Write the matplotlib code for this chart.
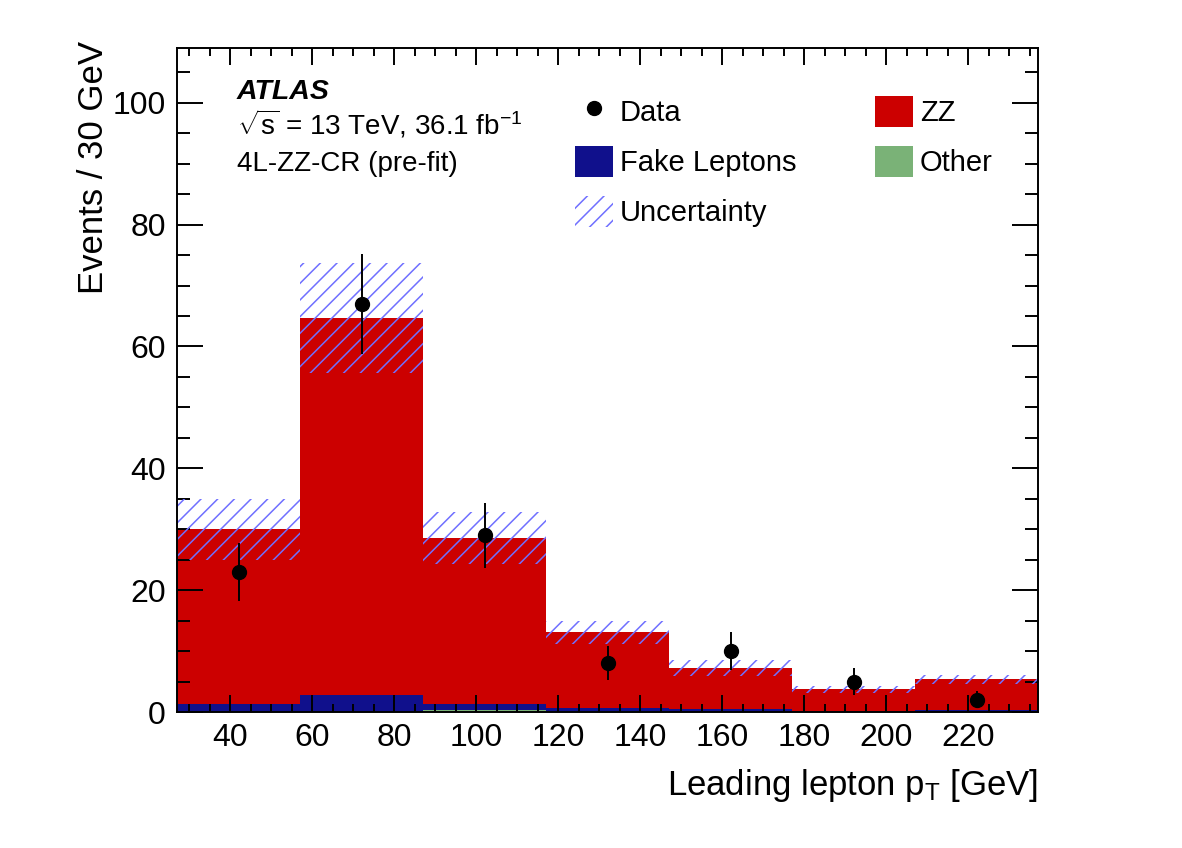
import numpy as np
import matplotlib
matplotlib.use("Agg")
import matplotlib.pyplot as plt
from matplotlib.patches import Patch
from matplotlib.lines import Line2D
from matplotlib.ticker import MultipleLocator

plt.rcParams['font.family'] = ['Liberation Sans', 'DejaVu Sans']
plt.rcParams['mathtext.fontset'] = 'custom'
plt.rcParams['mathtext.rm'] = 'Liberation Sans'
plt.rcParams['mathtext.it'] = 'Liberation Sans:italic'
plt.rcParams['hatch.linewidth'] = 1.1

# binning and yields
edges = np.array([27, 57, 87, 117, 147, 177, 207, 237])
other = np.array([0.05, 0.05, 0.3, 0.1, 0.05, 0.03, 0.05])
fake = np.array([1.3, 2.7, 1.0, 0.5, 0.4, 0.1, 0.2])
zz = np.array([28.65, 61.95, 27.3, 12.5, 6.75, 3.57, 5.15])
unc = np.array([5.0, 9.0, 4.3, 1.9, 1.3, 0.65, 0.75])
data = np.array([23, 67, 29, 8, 10, 5, 2])

red = '#cc0000'
blue = '#10108c'
green = '#7ab277'
hatch_col = '#7070ff'

centers = 0.5 * (edges[:-1] + edges[1:])
widths = np.diff(edges)
total = other + fake + zz

fig = plt.figure(figsize=(11.82, 8.48), dpi=100)
ax = fig.add_axes([177/1182, 136/848, 861/1182, 664/848])

# stacked backgrounds
ax.bar(centers, other, width=widths, color=green, linewidth=0, zorder=1)
ax.bar(centers, fake, width=widths, bottom=other, color=blue, linewidth=0, zorder=1)
ax.bar(centers, zz, width=widths, bottom=other + fake, color=red, linewidth=0, zorder=1)

# uncertainty band
ax.bar(centers, 2 * unc, width=widths, bottom=total - unc, facecolor='none',
       edgecolor=hatch_col, hatch='//', linewidth=0, zorder=2)

# data
ax.errorbar(centers, data, yerr=np.sqrt(data), fmt='o', color='black', ms=10,
            elinewidth=1.4, capsize=0, zorder=4)

ax.set_xlim(27, 237)
ax.set_ylim(0, 109)
ax.xaxis.set_major_locator(MultipleLocator(20))
ax.xaxis.set_minor_locator(MultipleLocator(5))
ax.yaxis.set_major_locator(MultipleLocator(20))
ax.yaxis.set_minor_locator(MultipleLocator(5))
ax.tick_params(axis='both', which='both', direction='in', top=True, right=True,
               width=1.4, labelsize=23)
ax.tick_params(axis='x', which='major', length=12, pad=8)
ax.tick_params(axis='x', which='minor', length=6)
ax.tick_params(axis='y', which='major', length=19, pad=8)
ax.tick_params(axis='y', which='minor', length=9.5)
for s in ax.spines.values():
    s.set_linewidth(1.4)
    s.set_zorder(5)

ax.set_xlabel(r'Leading lepton p$_{\mathrm{T}}$ [GeV]', fontsize=25, loc='right')
ax.xaxis.set_label_coords(1.0, -0.083)
ax.set_ylabel('Events / 30 GeV', fontsize=25, loc='top')
ax.yaxis.set_label_coords(-0.078, 1.01)

ax.text(0.0697, 0.923, 'ATLAS', transform=ax.transAxes, fontsize=20.5,
        fontweight='bold', fontstyle='italic', va='baseline')
ax.text(0.0697, 0.869, r'$\sqrt{\mathrm{s}}$ = 13 TeV, 36.1 fb$^{\mathrm{-1}}$',
        transform=ax.transAxes, fontsize=20, va='baseline')
ax.text(0.0697, 0.815, '4L-ZZ-CR (pre-fit)', transform=ax.transAxes,
        fontsize=20, va='baseline')

handles = [
    Line2D([], [], marker='o', ls='none', color='black', ms=10),
    Patch(facecolor=blue, linewidth=0),
    Patch(facecolor='none', edgecolor=hatch_col, hatch='//', linewidth=0),
    Patch(facecolor=red, linewidth=0),
    Patch(facecolor=green, linewidth=0),
]
labels = ['Data', 'Fake Leptons', 'Uncertainty', 'ZZ', 'Other']
ax.legend(handles, labels, ncol=2, loc='upper left', bbox_to_anchor=(0.462, 0.928),
          frameon=False, fontsize=21, borderpad=0, borderaxespad=0,
          handlelength=1.3, handleheight=1.25, handletextpad=0.24,
          labelspacing=0.65, columnspacing=2.7)

fig.savefig('out.png', dpi=100)
